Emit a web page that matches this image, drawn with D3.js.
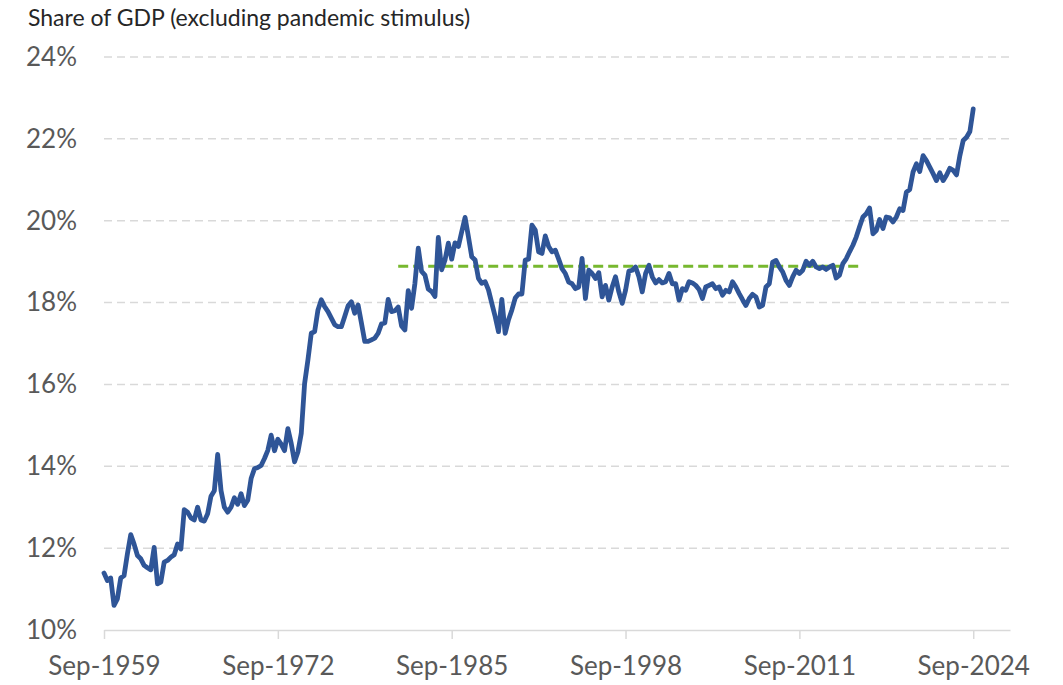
<!DOCTYPE html>
<html>
<head>
<meta charset="utf-8">
<script src="https://cdn.jsdelivr.net/npm/d3@7"></script>
<style>
  html, body { margin: 0; padding: 0; background: #ffffff; }
  svg { display: block; }
</style>
</head>
<body>
<svg id="chart" width="1063" height="685"></svg>
<script>
// Quarterly share of GDP (%), Sep-1959 .. Sep-2024
const shareOfGDP = [
  11.39, 11.21, 11.27, 10.60, 10.76, 11.27, 11.33, 11.86, 12.33, 12.10,
  11.82, 11.74, 11.58, 11.52, 11.47, 12.02, 11.13, 11.17, 11.66, 11.70,
  11.78, 11.84, 12.10, 11.98, 12.94, 12.88, 12.74, 12.69, 13.00, 12.69,
  12.66, 12.84, 13.27, 13.40, 14.29, 13.41, 13.00, 12.88, 13.00, 13.23,
  13.07, 13.33, 13.04, 13.17, 13.70, 13.94, 13.97, 14.02, 14.19, 14.39,
  14.76, 14.38, 14.66, 14.54, 14.38, 14.92, 14.56, 14.11, 14.35, 14.80,
  16.02, 16.60, 17.25, 17.29, 17.82, 18.07, 17.90, 17.78, 17.62, 17.46,
  17.41, 17.41, 17.66, 17.92, 18.02, 17.74, 17.94, 17.50, 17.05, 17.05,
  17.09, 17.13, 17.25, 17.48, 17.50, 18.08, 17.78, 17.80, 17.89, 17.43,
  17.33, 18.29, 17.86, 18.47, 19.33, 18.76, 18.67, 18.33, 18.27, 18.15,
  19.59, 18.80, 19.04, 19.45, 19.06, 19.46, 19.37, 19.73, 20.08, 19.61,
  19.12, 19.04, 18.59, 18.47, 18.51, 18.31, 17.98, 17.66, 17.29, 18.08,
  17.25, 17.58, 17.82, 18.11, 18.21, 18.21, 19.04, 19.06, 19.89, 19.77,
  19.24, 19.20, 19.63, 19.37, 19.24, 19.28, 19.06, 18.83, 18.71, 18.50,
  18.46, 18.34, 18.38, 19.08, 18.10, 18.79, 18.71, 18.59, 18.73, 18.14,
  18.42, 18.06, 18.38, 18.63, 18.26, 17.98, 18.30, 18.77, 18.79, 18.87,
  18.63, 18.26, 18.71, 18.91, 18.63, 18.48, 18.56, 18.48, 18.51, 18.71,
  18.46, 18.46, 18.06, 18.34, 18.30, 18.51, 18.48, 18.42, 18.32, 18.10,
  18.38, 18.42, 18.46, 18.34, 18.38, 18.18, 18.30, 18.26, 18.51, 18.38,
  18.22, 18.07, 17.93, 18.10, 18.20, 18.14, 17.89, 17.93, 18.38, 18.46,
  18.99, 19.03, 18.87, 18.75, 18.54, 18.42, 18.63, 18.79, 18.71, 18.79,
  19.01, 18.91, 19.01, 18.87, 18.83, 18.87, 18.81, 18.87, 18.91, 18.60,
  18.67, 18.95, 19.07, 19.24, 19.40, 19.60, 19.85, 20.09, 20.17, 20.31,
  19.68, 19.76, 20.03, 19.81, 20.09, 20.07, 19.97, 20.09, 20.29, 20.25,
  20.70, 20.76, 21.19, 21.39, 21.20, 21.59, 21.47, 21.31, 21.15, 20.98,
  21.17, 20.98, 21.11, 21.28, 21.23, 21.12, 21.59, 21.96, 22.04, 22.18,
  22.73
];

// Long-run average reference line (quarter index range)
const averageValue = 18.89;
const averageStartIndex = 88;
const averageEndIndex = 227;

// Axis labelling
const xTickLabels = ["Sep-1959", "Sep-1972", "Sep-1985", "Sep-1998", "Sep-2011", "Sep-2024"];
const xTickStep = 52;          // quarters between labelled ticks
const xCategoryCount = 272;    // categories on axis
const yTickValues = [10, 12, 14, 16, 18, 20, 22, 24];
const titleText = "Share of GDP (excluding pandemic stimulus)";

const FONT = "Lato, 'Open Sans', sans-serif";

const svg = d3.select("#chart");

const x = d3.scaleLinear().domain([0, xCategoryCount - 1]).range([104, 1010]);
const y = d3.scaleLinear().domain([10, 24]).range([630, 57]);

// Title
svg.append("text")
  .attr("x", 28)
  .attr("y", 26)
  .attr("font-family", FONT)
  .attr("font-size", 23)
  .attr("fill", "#262626")
  .text(titleText);

// Gridlines (dashed)
svg.append("g")
  .selectAll("line")
  .data(yTickValues.filter(v => v > 10))
  .join("line")
  .attr("x1", x(0))
  .attr("x2", x(xCategoryCount - 1))
  .attr("y1", d => y(d))
  .attr("y2", d => y(d))
  .attr("stroke", "#d9d9d9")
  .attr("stroke-width", 1.5)
  .attr("stroke-dasharray", "8,5");

// Y axis labels
const yAxis = d3.axisLeft(y)
  .tickValues(yTickValues)
  .tickSize(0)
  .tickPadding(0)
  .tickFormat(d => d + "%");
const gy = svg.append("g").attr("transform", "translate(77,0)").call(yAxis);
gy.select(".domain").remove();
gy.selectAll("text")
  .attr("font-family", FONT)
  .attr("font-size", 26)
  .attr("fill", "#595959");

// X axis
const xTickIdx = xTickLabels.map((_, i) => i * xTickStep);
const xAxis = d3.axisBottom(x)
  .tickValues(xTickIdx)
  .tickSize(9)
  .tickSizeOuter(0)
  .tickPadding(18)
  .tickFormat((d, i) => xTickLabels[i]);
const gx = svg.append("g").attr("transform", `translate(0,${y(10)})`).call(xAxis);
gx.select(".domain").attr("stroke", "#d9d9d9").attr("stroke-width", 1.5);
gx.selectAll(".tick line").attr("stroke", "#d9d9d9").attr("stroke-width", 1.5);
gx.selectAll("text")
  .attr("font-family", FONT)
  .attr("font-size", 26)
  .attr("fill", "#595959");

// Average line
const avgData = d3.range(averageStartIndex, averageEndIndex + 1).map(i => ({ i, v: averageValue }));
svg.append("path")
  .datum(avgData)
  .attr("fill", "none")
  .attr("stroke", "#77b82f")
  .attr("stroke-width", 3)
  .attr("stroke-dasharray", "10,5")
  .attr("d", d3.line().x(d => x(d.i)).y(d => y(d.v)));

// Main series
svg.append("path")
  .datum(shareOfGDP)
  .attr("fill", "none")
  .attr("stroke", "#2f5597")
  .attr("stroke-width", 4.8)
  .attr("stroke-linejoin", "round")
  .attr("stroke-linecap", "round")
  .attr("d", d3.line().x((d, i) => x(i)).y(d => y(d)));
</script>
</body>
</html>
